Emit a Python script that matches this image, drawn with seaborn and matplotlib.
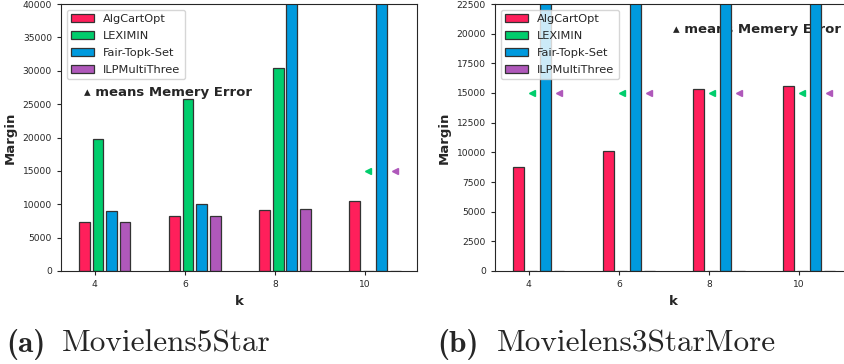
import numpy as np
import pandas as pd
import matplotlib
matplotlib.use("Agg")
import matplotlib.pyplot as plt
from matplotlib.ticker import MultipleLocator
import seaborn as sns

# k values on the x axis
k_values = [4, 6, 8, 10]
methods = ["AlgCartOpt", "LEXIMIN", "Fair-Topk-Set", "ILPMultiThree"]
colors = ["#FF1F5B", "#00CD6C", "#009ADE", "#AF58BA"]

# Movielens5Star margins (None = memory error)
ml5_algcart = [7400, 8250, 9150, 10550]
ml5_leximin = [19750, 25750, 30350, None]
ml5_fairtopk = [8950, 10050, 62000, 78000]
ml5_ilp = [7400, 8250, 9250, None]

# Movielens3StarMore margins (None = memory error)
ml3_algcart = [8800, 10120, 15350, 15580]
ml3_leximin = [None, None, None, None]
ml3_fairtopk = [46000, 52000, 58000, 64000]
ml3_ilp = [None, None, None, None]

# height at which memory-error markers are drawn
error_level = 15000

sns.set_style("ticks")


def build_frame(series):
    rows = []
    for method, values in zip(methods, series):
        for k, v in zip(k_values, values):
            rows.append({"k": k, "method": method,
                         "margin": 0 if v is None else v})
    df = pd.DataFrame(rows)
    # groups sit slightly to the right of each tick
    df["pos"] = df["k"] + 0.22
    return df


def draw_panel(ax, series, ymax, ystep, note_xy):
    df = build_frame(series)
    sns.barplot(data=df, x="pos", y="margin", hue="method",
                hue_order=methods, palette=colors, native_scale=True,
                width=0.6, gap=0.2, saturation=1, errorbar=None,
                edgecolor="0.2", linewidth=0.9, ax=ax)
    # mark the runs that failed with a memory error
    for container, color in zip(ax.containers, colors):
        for bar in container:
            if bar.get_height() == 0:
                ax.plot(bar.get_x() + bar.get_width() / 2, error_level,
                        marker="<", markersize=4.5, color=color,
                        linestyle="none", zorder=3)
    ax.text(note_xy[0], note_xy[1], "\u25b4 means Memery Error",
            fontsize=9.5, fontweight="bold", ha="left", va="center",
            zorder=0.5)
    ax.set_xlim(3.25, 11.15)
    ax.set_ylim(0, ymax)
    ax.set_xticks(k_values)
    ax.set_xticklabels([str(k) for k in k_values])
    ax.yaxis.set_major_locator(MultipleLocator(ystep))
    ax.tick_params(labelsize=6.6, length=3)
    ax.set_xlabel("k", fontsize=9.5, fontweight="bold")
    ax.set_ylabel("Margin", fontsize=9.5, fontweight="bold")
    sns.move_legend(ax, "upper left", title=None, fontsize=8.2,
                    labelspacing=0.6, frameon=True, framealpha=0.8,
                    edgecolor="0.8")
    for sp in ax.spines.values():
        sp.set_color("0.15")


fig = plt.figure(figsize=(8.45, 3.64), dpi=100)
ax1 = fig.add_axes([61 / 845, 93 / 364, 356 / 845, 267 / 364])
ax2 = fig.add_axes([495 / 845, 93 / 364, 356 / 845, 267 / 364])

draw_panel(ax1, [ml5_algcart, ml5_leximin, ml5_fairtopk, ml5_ilp],
           40000, 5000, (3.76, 26700))
draw_panel(ax2, [ml3_algcart, ml3_leximin, ml3_fairtopk, ml3_ilp],
           22500, 2500, (7.19, 20330))

# sub-figure captions
caption_y = 12 / 364
for tag, name, x_tag, x_name in [("(a)", "Movielens5Star", 6, 62),
                                  ("(b)", "Movielens3StarMore", 437, 497)]:
    fig.text(x_tag / 845, caption_y, tag, fontfamily="cmb10",
             fontsize=22.5, ha="left", va="baseline")
    fig.text(x_name / 845, caption_y, name, fontfamily="cmr10",
             fontsize=22.5, ha="left", va="baseline")

fig.savefig("out.png", dpi=100)
